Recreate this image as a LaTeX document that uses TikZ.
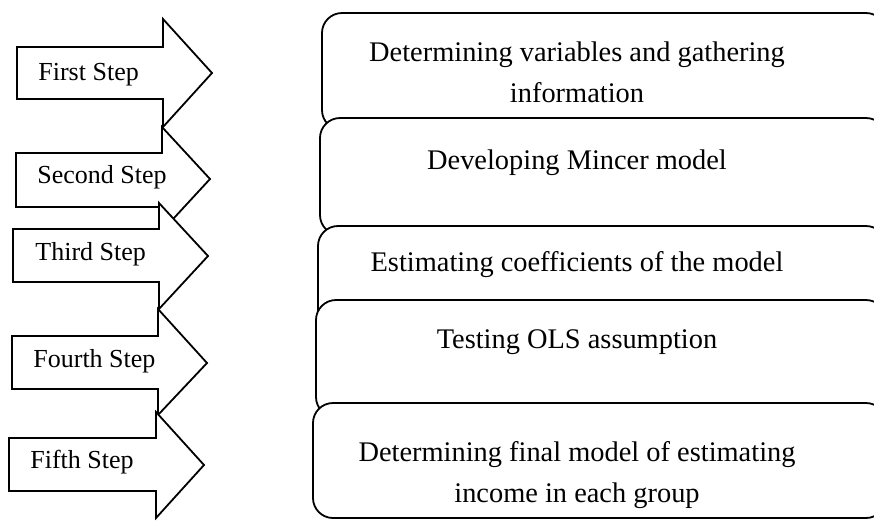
\documentclass[tikz,border=0pt]{standalone}
\usepackage{fontspec}
\setmainfont{Liberation Serif}
\usepackage{tikz}

\tikzset{
  steparrow/.style={draw, line width=0.9pt, fill=white, line join=miter},
  stepbox/.style={draw, line width=0.9pt, fill=white, rounded corners=10pt},
  steplabel/.style={anchor=base west, inner sep=0pt, font=\fontsize{13}{15}\selectfont},
  boxtext/.style={anchor=north, inner sep=0pt, align=center, font=\fontsize{14.2}{20.5}\selectfont}
}

\begin{document}
\begin{tikzpicture}[x=0.5pt,y=-0.5pt]
        \useasboundingbox (0,0) rectangle (874,521);
        \clip (0,0) rectangle (874,521);
        % Step arrows
        \draw[steparrow] (17,47) -- (163,47) -- (163,19) -- (212,73) -- (163,127) -- (163,99) -- (17,99) -- cycle;
        \node[steplabel] (first) at (38,80) {First Step};
        \draw[steparrow] (16,153) -- (162,153) -- (162,127) -- (210,179) -- (162,231) -- (162,207) -- (16,207) -- cycle;
        \node[steplabel] (second) at (37,183) {Second Step};
        \draw[steparrow] (13,229) -- (159,229) -- (159,203) -- (208,256) -- (159,309) -- (159,282) -- (13,282) -- cycle;
        \node[steplabel] (third) at (35,260) {Third Step};
        \draw[steparrow] (12,336) -- (158,336) -- (158,309) -- (207,363) -- (158,415) -- (158,389) -- (12,389) -- cycle;
        \node[steplabel] (fourth) at (33,367) {Fourth Step};
        \draw[steparrow] (9,438) -- (156,438) -- (156,412) -- (204,465) -- (156,518) -- (156,491) -- (9,491) -- cycle;
        \node[steplabel] (fifth) at (30,468) {Fifth Step};
        % Stage boxes
        \draw[stepbox] (322,13) rectangle (886,130);
        \node[boxtext] (variables) at (577,41) {Determining variables and gathering\\information};
        \draw[stepbox] (320,118) rectangle (886,235);
        \node[boxtext] (mincer) at (577,149) {Developing Mincer model};
        \draw[stepbox] (318,226) rectangle (886,343);
        \node[boxtext] (coefficients) at (577,251) {Estimating coefficients of the model};
        \draw[stepbox] (316,300) rectangle (886,417);
        \node[boxtext] (ols) at (577,329) {Testing OLS assumption};
        \draw[stepbox] (313,403) rectangle (886,518);
        \node[boxtext] (final) at (577,441) {Determining final model of estimating\\income in each group};
\end{tikzpicture}
\end{document}
